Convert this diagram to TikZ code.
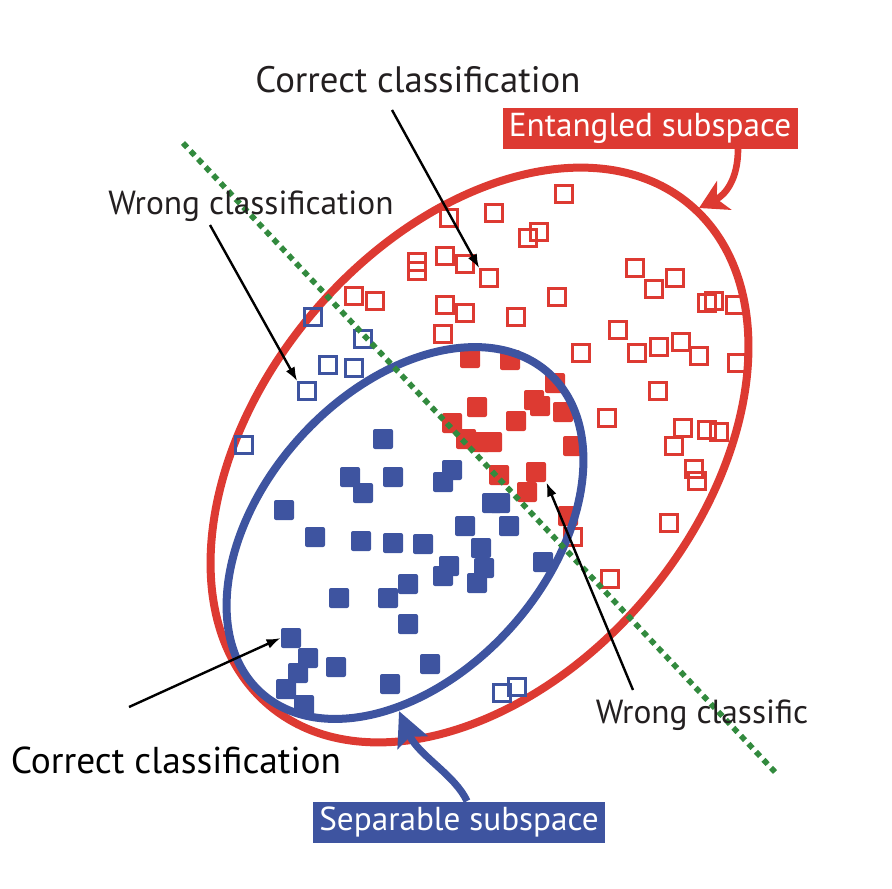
\documentclass[tikz,border=0pt]{standalone}
\usepackage{fontspec}
\setmainfont{PT Sans}
\usetikzlibrary{arrows.meta, positioning}
\definecolor{entred}{RGB}{221,58,50}
\definecolor{sepblue}{RGB}{62,84,160}
\definecolor{cutgreen}{RGB}{50,138,62}
\definecolor{inkgray}{RGB}{35,31,32}
\tikzset{
  redopen/.style={draw=entred, line width=1.4pt, minimum size=8.4pt, inner sep=0pt},
  blueopen/.style={draw=sepblue, line width=1.4pt, minimum size=8.4pt, inner sep=0pt},
  redfull/.style={fill=entred, minimum size=10pt, inner sep=0pt, rounded corners=1pt},
  bluefull/.style={fill=sepblue, minimum size=10pt, inner sep=0pt, rounded corners=1pt},
  callout/.style={font=\fontsize{16.7}{19}\selectfont, text=inkgray, inner sep=0pt, anchor=base},
  pointer/.style={line width=1.2pt, -{Latex[length=7pt,width=5pt]}},
  tag/.style={font=\fontsize{16.6}{19}\selectfont, text=white, inner sep=0pt, minimum height=20.5pt}
}

\begin{document}
\begin{tikzpicture}[x=0.5pt, y=-0.5pt]
\useasboundingbox (0,0) rectangle (892,888);
\draw[entred, line width=4pt, rotate around={50:(479.5,455)}] (479.5,455) ellipse [x radius=327, y radius=219];
\foreach \x/\y in {564/194,494/213,449/218,528/238,539/232,445/256,465/264,417/262,417/271,354/296,375/301,
  635/268,654/289,675/278,557/297,707/303,714/301,735/305,445/305,465/313,516/317,443/334,618/330,581/353,
  637/353,659/347,681/342,699/356,737/363,658/391,607/418,683/428,707/430,719/432,674/446,694/469,697/481,
  669/523,610/579,573/537}
  \node[redopen] at (\x,\y) {};
\foreach \x/\y in {313/317,363/339,328/365,354/368,244/445,502/693,517/687}
  \node[blueopen] at (\x,\y) {};
\foreach \x/\y in {470/358,510/360,555/383,477/407,534/400,540/406,563/412,516/421,452/423,466/439,
  480/442,492/442,573/446,499/475,527/492,568/516}
  \node[redfull] at (\x,\y) {};
\foreach \x/\y in {383/439,350/477,363/493,393/477,452/470,443/482,284/510,492/503,500/503,509/526,
  465/526,315/537,361/541,393/543,423/544,481/548,449/566,443/576,484/568,477/583,408/584,339/598,
  388/598,543/562,408/624,308/658,336/667,298/673,286/689,430/664,390/684,304/705}
  \node[bluefull] at (\x,\y) {};
% squares the callouts point at
\node[redopen] (hitA) at (489,278) {};
\node[blueopen] (hitB) at (307,391) {};
\node[bluefull] (hitC) at (291,638) {};
\node[redfull] (hitD) at (536,472) {};
\draw[sepblue, line width=4pt, rotate around={48:(405,533)}] (405,533) ellipse [x radius=215, y radius=142];
\draw[cutgreen, line width=2.8pt, dash pattern=on 3pt off 2.5pt] (183,143) -- (775,772);

\node[callout, font=\fontsize{18.4}{21}\selectfont] (labCT) at (418,92) {Correct classification};
\node[callout] (labWC) at (251,214) {Wrong classification};
\node[callout] (labWR) at (702,723) {Wrong classific};
\node[callout, text=black, font=\fontsize{18.7}{21}\selectfont] (labCB) at (176,773) {Correct classification};
\coordinate (fromCT) at (392,110);
\coordinate (fromWC) at (210,225);
\coordinate (fromCB) at (129,707);
\coordinate (fromWR) at (633,690);
\draw[pointer] (fromCT) -- (hitA.north west);
\draw[pointer] (fromWC) -- (hitB.north west);
\draw[pointer] (fromCB) -- (hitC.west);
\draw[pointer] (fromWR) -- (hitD.south east);

\node[tag, fill=entred, minimum width=147.5pt] (entTag) at (650,128) {Entangled subspace};
\node[tag, fill=sepblue, minimum width=146pt] (sepTag) at (459,822) {Separable subspace};
\coordinate (entTip) at (699,208);
\coordinate (sepTip) at (399,711);
\draw[entred, line width=3.3pt, -{Stealth[length=14pt,width=16pt,inset=4pt]}]
  ([xshift=44pt]entTag.south) .. controls (738,180) and (725,195) .. (entTip);
\draw[sepblue, line width=3.6pt, -{Stealth[length=17pt,width=16pt,inset=3pt]}]
  ([xshift=4pt]sepTag.north) .. controls (455,775) and (418,755) .. (sepTip);
\end{tikzpicture}
\end{document}
